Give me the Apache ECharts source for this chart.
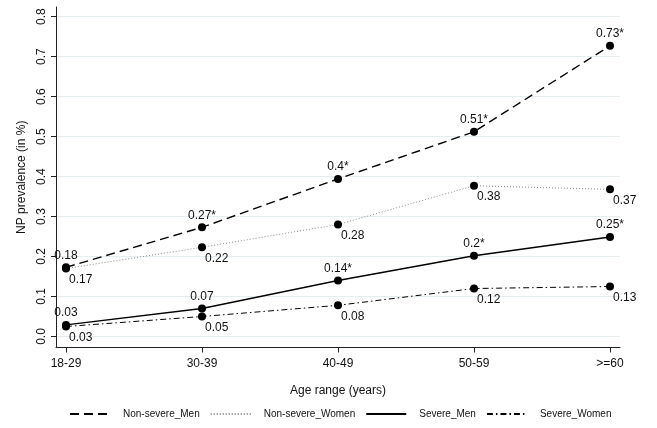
<!DOCTYPE html>
<html>
<head>
<meta charset="utf-8">
<script src="https://cdn.jsdelivr.net/npm/echarts@6/dist/echarts.min.js"></script>
<style>
html,body{margin:0;padding:0;background:#fff;}
#chart{width:657px;height:428px;}
</style>
</head>
<body>
<div id="chart"></div>
<script>
var categories = ['18-29', '30-39', '40-49', '50-59', '>=60'];
var yTicks = [0, 0.1, 0.2, 0.3, 0.4, 0.5, 0.6, 0.7, 0.8];

var nonSevereMen = [0.173, 0.273, 0.394, 0.512, 0.727];
var nonSevereMenLabels = ['0.18', '0.27*', '0.4*', '0.51*', '0.73*'];
var nonSevereWomen = [0.170, 0.223, 0.280, 0.377, 0.368];
var nonSevereWomenLabels = ['0.17', '0.22', '0.28', '0.38', '0.37'];
var severeMen = [0.029, 0.070, 0.140, 0.202, 0.249];
var severeMenLabels = ['0.03', '0.07', '0.14*', '0.2*', '0.25*'];
var severeWomen = [0.025, 0.050, 0.078, 0.120, 0.125];
var severeWomenLabels = ['0.03', '0.05', '0.08', '0.12', '0.13'];

var FONT = '"Liberation Sans", Arial, Helvetica, sans-serif';

function pairs(vals) {
  return vals.map(function (v, i) { return [i, v]; });
}

function makeSeries(name, vals, labels, lineStyle, above) {
  return {
    name: name,
    type: 'line',
    data: pairs(vals),
    symbol: 'circle',
    symbolSize: 8,
    itemStyle: { color: '#000' },
    lineStyle: lineStyle,
    z: above ? 3 : 2,
    label: {
      show: true,
      position: above ? 'top' : 'bottom',
      align: above ? 'center' : 'left',
      offset: above ? [0, 1] : [3, -2],
      distance: 3,
      fontFamily: FONT,
      fontSize: 12,
      color: '#111',
      formatter: function (p) { return labels[p.dataIndex]; }
    }
  };
}

var chart = echarts.init(document.getElementById('chart'), null, { renderer: 'canvas' });
chart.setOption({
  animation: false,
  backgroundColor: '#fff',
  textStyle: { fontFamily: FONT },
  grid: { left: 56, right: 37, top: 7, bottom: 80.5, containLabel: false },
  xAxis: {
    type: 'value',
    min: -0.0735,
    max: 4.0735,
    name: 'Age range (years)',
    nameLocation: 'middle',
    nameGap: 37,
    nameTextStyle: { fontFamily: FONT, fontSize: 12, color: '#111' },
    axisLine: { show: true, onZero: false, lineStyle: { color: '#222', width: 1 } },
    axisTick: { show: true, length: 5, lineStyle: { color: '#222' }, customValues: [0, 1, 2, 3, 4] },
    axisLabel: {
      customValues: [0, 1, 2, 3, 4],
      margin: 10,
      fontFamily: FONT, fontSize: 12, color: '#111',
      formatter: function (v) { return categories[Math.round(v)]; }
    },
    splitLine: { show: false }
  },
  yAxis: {
    type: 'value',
    min: -0.0275,
    max: 0.824,
    name: 'NP prevalence (in %)',
    nameLocation: 'middle',
    nameGap: 28,
    nameTextStyle: { fontFamily: FONT, fontSize: 12, color: '#111' },
    axisLine: { show: true, onZero: false, lineStyle: { color: '#222', width: 1 } },
    axisTick: { show: true, length: 5, lineStyle: { color: '#222' }, customValues: yTicks },
    axisLabel: {
      customValues: yTicks,
      rotate: 90,
      margin: 8,
      fontFamily: FONT, fontSize: 12, color: '#111',
      formatter: function (v) { return v.toFixed(1); }
    },
    splitLine: { show: true, lineStyle: { color: '#e6edf1', width: 1 } }
  },
  legend: {
    left: 64,
    top: 404,
    itemWidth: 40,
    itemHeight: 10,
    itemGap: 10,
    itemStyle: { opacity: 0 },
    textStyle: { fontFamily: FONT, fontSize: 10, color: '#111', padding: [0, 0, 0, 8] },
    data: ['Non-severe_Men', 'Non-severe_Women', 'Severe_Men', 'Severe_Women']
  },
  series: [
    makeSeries('Non-severe_Men', nonSevereMen, nonSevereMenLabels,
      { color: '#000', width: 1.4, type: [9, 5] }, true),
    makeSeries('Non-severe_Women', nonSevereWomen, nonSevereWomenLabels,
      { color: '#888', width: 1, type: [1, 2] }, false),
    makeSeries('Severe_Men', severeMen, severeMenLabels,
      { color: '#000', width: 1.4, type: 'solid' }, true),
    makeSeries('Severe_Women', severeWomen, severeWomenLabels,
      { color: '#000', width: 1, type: [6, 3, 1.5, 3] }, false)
  ]
});
</script>
</body>
</html>
